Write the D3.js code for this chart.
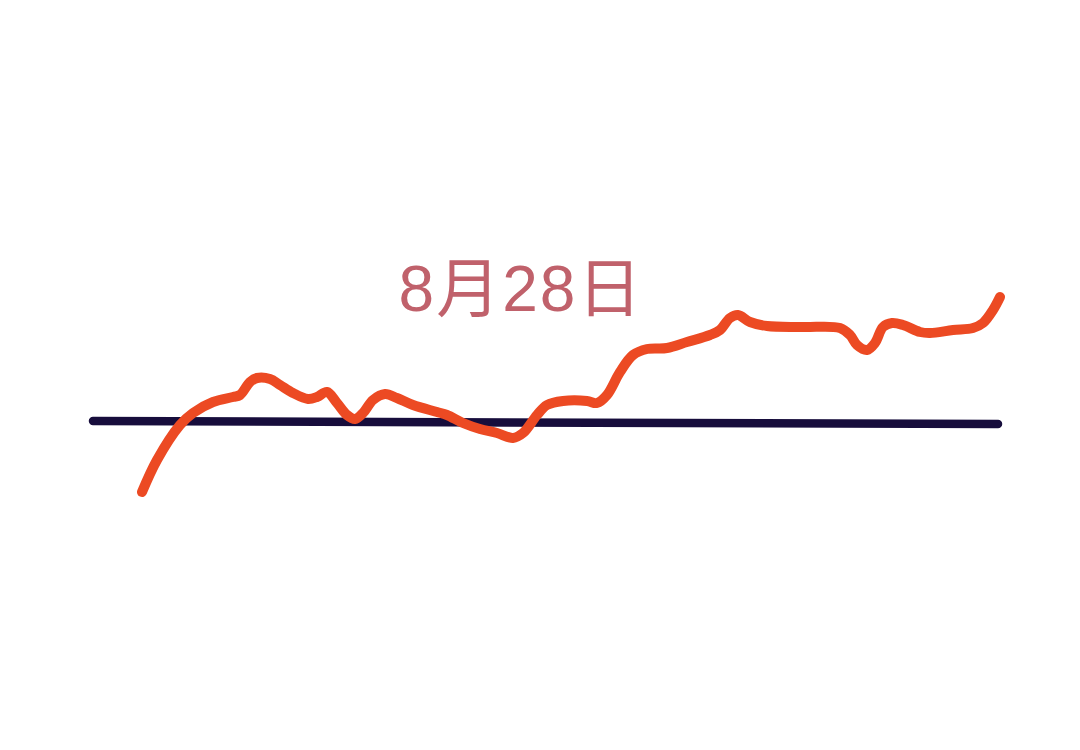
<!DOCTYPE html>
<html>
<head>
<meta charset="utf-8">
<script src="https://cdn.jsdelivr.net/npm/d3@7"></script>
<style>
  html, body { margin: 0; padding: 0; background: #ffffff; }
  svg { display: block; }
</style>
</head>
<body>
<div id="chart"></div>
<script>
// ---- Data ----
const title = "8月28日";

// time positions along the horizontal axis
const timePoints = [142, 157, 180, 193, 213, 233, 240, 250, 257, 270, 280, 293, 308, 317, 327, 337, 347, 355, 363, 373, 385, 397, 413, 437, 447, 463, 480, 497, 513, 523, 537, 547, 563, 587, 597, 607, 620, 633, 647, 667, 687, 710, 720, 730, 738, 750, 767, 803, 840, 850, 857, 867, 875, 883, 892, 903, 920, 930, 953, 973, 983, 993, 1000];
// values relative to the reference level (positive = above)
const seriesValues = [-70, -38, -3, 9, 20, 25, 27, 40, 44, 43, 37, 29, 23, 25, 30, 19, 7, 3, 9, 22, 28, 24, 17, 10, 7, -1, -7, -11, -16, -11, 7, 17, 21, 21, 19, 27, 50, 67, 73, 74, 80, 87, 92, 104, 107, 100, 96, 95, 94, 87, 77, 72, 79, 95, 99, 97, 90, 89, 92, 94, 99, 112, 125];

// reference (flat) line: start/end times and values
const refTimes = [93, 998];
const refValues = [1, -2];

// ---- Layout ----
const width = 1080, height = 750;

const x = d3.scaleLinear().domain([0, 1080]).range([0, width]);
const y = d3.scaleLinear().domain([0, 100]).range([422, 322]);

const svg = d3.select("#chart").append("svg")
  .attr("width", width).attr("height", height);

svg.append("rect").attr("width", width).attr("height", height).attr("fill", "#ffffff");

// reference line
const refData = refTimes.map((t, i) => ({ t, v: refValues[i] }));
svg.append("path")
  .datum(refData)
  .attr("d", d3.line().x(d => x(d.t)).y(d => y(d.v)))
  .attr("fill", "none")
  .attr("stroke", "#170d3c")
  .attr("stroke-width", 8.5)
  .attr("stroke-linecap", "round");

// series line
const data = timePoints.map((t, i) => ({ t, v: seriesValues[i] }));
svg.append("path")
  .datum(data)
  .attr("d", d3.line().curve(d3.curveCatmullRom.alpha(0.5)).x(d => x(d.t)).y(d => y(d.v)))
  .attr("fill", "none")
  .attr("stroke", "#ec4a23")
  .attr("stroke-width", 10)
  .attr("stroke-linecap", "round")
  .attr("stroke-linejoin", "round");

// title label
svg.append("text")
  .attr("x", 521)
  .attr("y", 311)
  .attr("text-anchor", "middle")
  .attr("font-family", "'Liberation Sans', 'Noto Sans CJK SC', sans-serif")
  .attr("font-size", 64)
  .attr("letter-spacing", 2)
  .attr("fill", "#c0616b")
  .text(title);
</script>
</body>
</html>
